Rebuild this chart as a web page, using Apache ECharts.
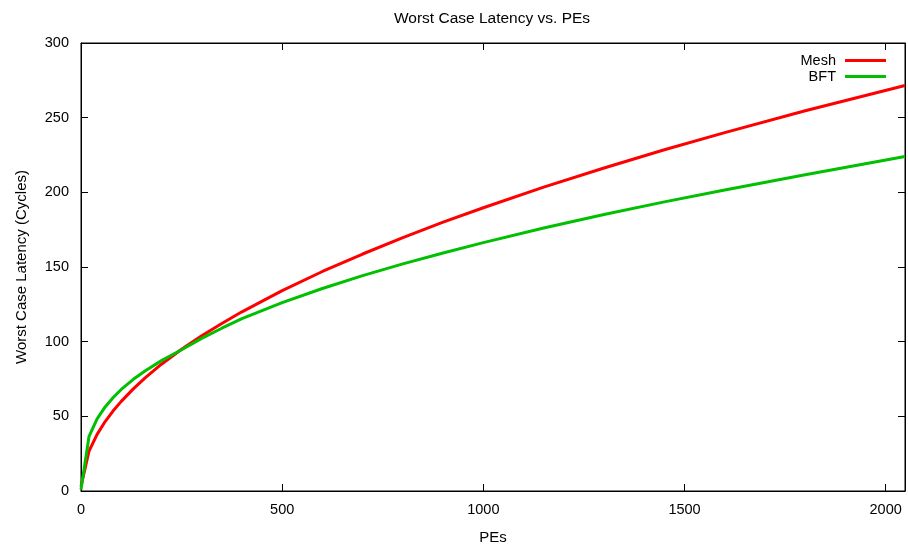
<!DOCTYPE html>
<html>
<head>
<meta charset="utf-8">
<script src="https://cdn.jsdelivr.net/npm/echarts@6/dist/echarts.min.js"></script>
<style>html,body{margin:0;padding:0;background:#fff}#c{width:908px;height:550px}</style>
</head>
<body>
<div id="c"></div>
<script>
var titleText = "Worst Case Latency vs. PEs";
var xName = "PEs";
var yName = "Worst Case Latency (Cycles)";
var seriesNames = ["Mesh", "BFT"];
var pes = [0, 20, 40, 60, 80, 100, 130, 160, 200, 250, 300, 350, 400, 500, 600, 700, 800, 900, 1000, 1150, 1300, 1450, 1600, 1800, 2048];
var meshLatency = [3, 26.8, 37.9, 46.5, 53.7, 60, 68.4, 75.9, 84.9, 94.9, 103.9, 112.2, 120, 134.2, 147.0, 158.7, 169.7, 180, 189.7, 203.5, 216.3, 228.5, 240, 254.6, 271.5];
var bftLatency = [1, 36.6, 48.3, 56.3, 62.6, 68.0, 74.8, 80.5, 87.3, 94.6, 102.2, 109.0, 115.4, 126.1, 135.6, 144.2, 152.1, 159.4, 166.3, 176.1, 185.1, 193.6, 201.6, 211.8, 224];
var xTicks = {min: 0, max: 2048, interval: 500};
var yTicks = {min: 0, max: 300, interval: 50};

var font = "'Liberation Sans', Arial, sans-serif";
function pairs(xs, ys){ return xs.map(function(x,i){ return [x, ys[i]]; }); }
function plain(v){ return String(v); }

var chart = echarts.init(document.getElementById('c'), null, {renderer: 'canvas'});
var axisLine = {show: true, onZero: false, lineStyle: {color: '#000', width: 1}};
var tick = {show: true, inside: true, length: 7, lineStyle: {color: '#000', width: 1}};
chart.setOption({
  animation: false,
  backgroundColor: '#fff',
  title: {
    text: titleText, left: 487, top: 6, textAlign: 'center',
    textStyle: {fontFamily: font, fontSize: 15.5, fontWeight: 'normal', color: '#000'}
  },
  legend: {
    orient: 'vertical', right: 17, top: 48, align: 'right',
    itemWidth: 41, itemHeight: 3, itemGap: 1, icon: 'rect',
    textStyle: {fontFamily: font, fontSize: 14.5, color: '#000', padding: [0, 4, 0, 0]},
    data: seriesNames
  },
  grid: {left: 81, right: 3, top: 43, bottom: 58.5, show: true, borderColor: '#000', borderWidth: 1, containLabel: false},
  xAxis: [{
    type: 'value', min: xTicks.min, max: xTicks.max, interval: xTicks.interval,
    name: xName, nameLocation: 'middle', nameGap: 39,
    nameTextStyle: {fontFamily: font, fontSize: 15, color: '#000'},
    axisLine: axisLine, axisTick: tick, splitLine: {show: false},
    axisLabel: {fontFamily: font, fontSize: 14.5, color: '#000', margin: 11, showMaxLabel: false, formatter: plain}
  }, {
    type: 'value', position: 'top', min: xTicks.min, max: xTicks.max, interval: xTicks.interval,
    axisLine: axisLine, axisTick: tick, splitLine: {show: false}, axisLabel: {show: false}
  }],
  yAxis: [{
    type: 'value', min: yTicks.min, max: yTicks.max, interval: yTicks.interval,
    name: yName, nameLocation: 'middle', nameGap: 52,
    nameTextStyle: {fontFamily: font, fontSize: 15, color: '#000'},
    axisLine: axisLine, axisTick: tick, splitLine: {show: false},
    axisLabel: {fontFamily: font, fontSize: 14.5, color: '#000', margin: 12, formatter: plain}
  }, {
    type: 'value', position: 'right', min: yTicks.min, max: yTicks.max, interval: yTicks.interval,
    axisLine: axisLine, axisTick: tick, splitLine: {show: false}, axisLabel: {show: false}
  }],
  series: [{
    name: seriesNames[0], type: 'line', data: pairs(pes, meshLatency),
    showSymbol: false, symbol: 'none', smooth: false, clip: true,
    lineStyle: {color: '#ff0000', width: 3}, itemStyle: {color: '#ff0000'}
  }, {
    name: seriesNames[1], type: 'line', data: pairs(pes, bftLatency),
    showSymbol: false, symbol: 'none', smooth: false, clip: true,
    lineStyle: {color: '#00c000', width: 3}, itemStyle: {color: '#00c000'}
  }]
});
</script>
</body>
</html>
